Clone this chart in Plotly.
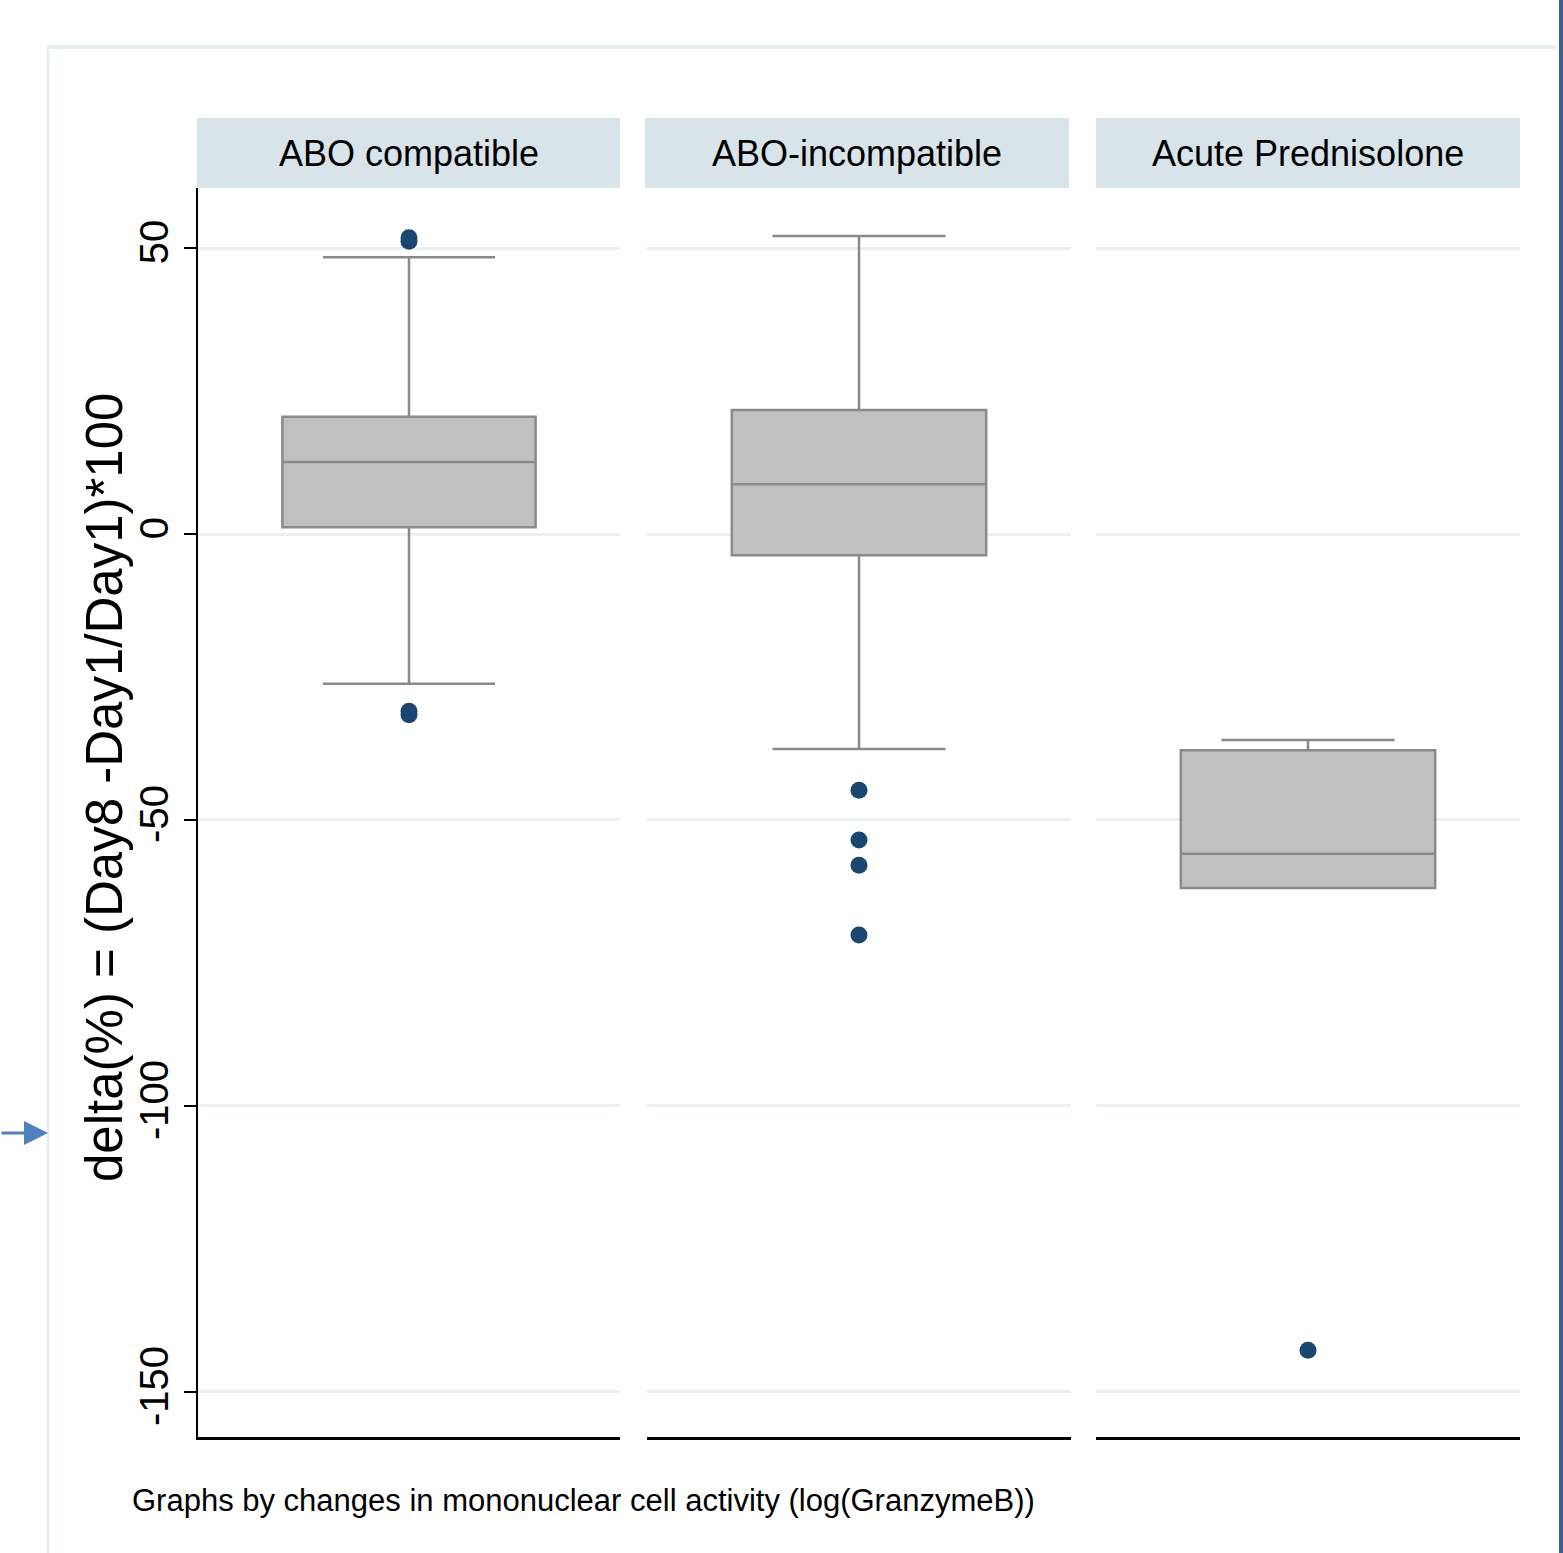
import plotly.graph_objects as go

# ---- data ----
groups = ["ABO compatible", "ABO-incompatible", "Acute Prednisolone"]
q1 = [1.2, -3.7, -61.9]
median = [12.6, 8.7, -55.9]
q3 = [20.5, 21.7, -37.8]
lower_whisker = [-26.2, -37.6, -61.9]
upper_whisker = [48.4, 52.1, -36.0]
outliers = [[51.2, 51.8, -31.0, -31.6], [-44.8, -53.5, -57.9, -70.1], [-142.7]]
y_ticks = [50, 0, -50, -100, -150]
y_tick_labels = ["50", "0", "-50", "-100", "-150"]
y_title = "delta(%) = (Day8 -Day1/Day1)*100"
note = "Graphs by changes in mononuclear cell activity (log(GranzymeB))"

W, H = 1563, 1553
def px(x): return x / W
def py(y): return 1 - y / H

SANS = "Liberation Sans, Arial, sans-serif"

panel_px = [(198, 620), (647, 1071), (1096, 1520)]
strip_px = [(197, 620), (645, 1069), (1096, 1520)]
ydom = [py(1437), py(188)]
yrange = [-157.87, 60.49]

box_fill = "#c0c0c0"
box_line = "#8a8a8a"
pt_color = "#1a476f"
grid_color = "#e9f1f3"

fig = go.Figure()
for i, g in enumerate(groups):
    ax = "" if i == 0 else str(i + 1)
    fig.add_trace(go.Box(
        x=[0], q1=[q1[i]], median=[median[i]], q3=[q3[i]],
        lowerfence=[lower_whisker[i]], upperfence=[upper_whisker[i]],
        width=0.6, whiskerwidth=0.68, boxpoints=False,
        fillcolor=box_fill, line=dict(color=box_line, width=2.5),
        xaxis="x" + ax, yaxis="y" + ax, showlegend=False, hoverinfo="skip", name=g,
    ))
    fig.add_trace(go.Scatter(
        x=[0] * len(outliers[i]), y=outliers[i], mode="markers",
        marker=dict(color=pt_color, size=17, symbol="circle"),
        xaxis="x" + ax, yaxis="y" + ax, showlegend=False, hoverinfo="skip",
    ))

layout = dict(
    width=W, height=H, autosize=False,
    margin=dict(l=0, r=0, t=0, b=0),
    paper_bgcolor="white", plot_bgcolor="white",
)
for i, (a, b) in enumerate(panel_px):
    ax = "" if i == 0 else str(i + 1)
    layout["xaxis" + ax] = dict(
        domain=[px(a), px(b)], range=[-0.5, 0.5], showgrid=False, zeroline=False,
        showticklabels=False, ticks="", showline=True, linecolor="black", linewidth=3,
        anchor="y" + ax, fixedrange=True,
    )
    yax = dict(
        domain=ydom, range=yrange, tickvals=y_ticks, ticktext=y_tick_labels, showgrid=True,
        gridcolor=grid_color, gridwidth=3, zeroline=False, anchor="x" + ax,
        fixedrange=True,
    )
    if i == 0:
        yax.update(showline=True, linecolor="black", linewidth=2, ticks="outside",
                   ticklen=12, tickwidth=2, tickcolor="black", tickangle=-90,
                   tickfont=dict(family=SANS, size=40, color="black"),
                   ticklabelstandoff=0)
    else:
        yax.update(showline=False, showticklabels=False, ticks="", matches="y")
    layout["yaxis" + ax] = yax

shapes = []
annotations = []
for (a, b), g in zip(strip_px, groups):
    shapes.append(dict(type="rect", xref="paper", yref="paper",
                       x0=px(a), x1=px(b), y0=py(188), y1=py(118),
                       fillcolor="#d9e4ea", line=dict(width=0), layer="below"))
    annotations.append(dict(text=g, xref="paper", yref="paper",
                            x=px((a + b) / 2), y=py(153), xanchor="center", yanchor="middle",
                            showarrow=False, font=dict(family=SANS, size=36, color="black")))
# outer frame lines
shapes.append(dict(type="line", xref="paper", yref="paper", x0=px(47), x1=px(1557),
                   y0=py(47), y1=py(47), line=dict(color="#e6eff2", width=4)))
shapes.append(dict(type="line", xref="paper", yref="paper", x0=px(48), x1=px(48),
                   y0=py(47), y1=0, line=dict(color="#e3eef5", width=3)))
shapes.append(dict(type="line", xref="paper", yref="paper", x0=px(1561), x1=px(1561),
                   y0=0, y1=1, line=dict(color="#3d5d8e", width=4)))

annotations.append(dict(text=y_title, xref="paper", yref="paper", x=px(104), y=py(788),
                        xanchor="center", yanchor="middle", textangle=-90, showarrow=False,
                        font=dict(family=SANS, size=51, color="black")))
annotations.append(dict(text=note, xref="paper", yref="paper", x=px(130), y=py(1500),
                        xanchor="left", yanchor="middle", showarrow=False,
                        font=dict(family=SANS, size=31, color="black")))
annotations.append(dict(text="", xref="paper", yref="paper", x=px(48), y=py(1133),
                        ax=-48, ay=0, showarrow=True, arrowhead=2, arrowsize=1.6,
                        arrowwidth=3, arrowcolor="#4f81bd"))

layout["shapes"] = shapes
layout["annotations"] = annotations
fig.update_layout(**layout)
fig.write_html("out.html", config={"displayModeBar": False},
               post_script="document.body.style.margin='0';document.body.style.overflow='hidden';")
